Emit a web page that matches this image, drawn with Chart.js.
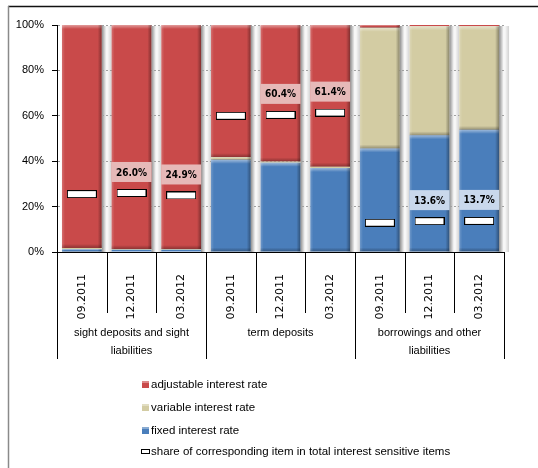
<!DOCTYPE html>
<html>
<head>
<meta charset="utf-8">
<script src="https://cdn.jsdelivr.net/npm/chart.js@4/dist/chart.umd.min.js"></script>
<style>
  html, body { margin: 0; padding: 0; background: #fff; }
  canvas { display: block; }
</style>
</head>
<body>
<canvas id="chart" width="538" height="468"></canvas>
<script>
// Reporting periods, repeated for each liability item
const periods = ['09.2011', '12.2011', '03.2012',
                 '09.2011', '12.2011', '03.2012',
                 '09.2011', '12.2011', '03.2012'];
const itemGroups = [
  ['sight deposits and sight', 'liabilities'],
  ['term deposits'],
  ['borrowings and other', 'liabilities']
];
const periodsPerGroup = 3;

// Structure by interest rate type, % of each item
const fixedRate      = [1.2, 1.0, 1.0, 40.6, 39.3, 37.0, 45.6, 51.4, 53.8];
const variableRate   = [0.6, 0.3, 0.3,  1.2,  0.6,  0.6, 53.2, 48.0, 45.6];
const adjustableRate = [98.2, 98.7, 98.7, 58.2, 60.1, 62.4, 1.2, 0.6, 0.6];

// Share of the item in total interest sensitive items, %
const shareOfTotal = [25.5, 26.0, 24.9, 60.0, 60.4, 61.4, 12.9, 13.6, 13.7];
// Periods whose share value is printed
const labelledIdx = [1, 2, 4, 5, 7, 8];

const yTickStep = 20;

const seriesNames = {
  adjustable: 'adjustable interest rate',
  variable: 'variable interest rate',
  fixed: 'fixed interest rate',
  share: 'share of corresponding item in total interest sensitive items'
};

const COLORS = {
  fixed: '#4a7ebb',
  variable: '#d3cca3',
  adjustable: '#c94a4a',
  labelRed: '#e6b9b8',
  labelBlue: '#c9d8ec'
};

const SANS = "'Liberation Sans', Arial, sans-serif";
const COND = "'DejaVu Sans Condensed', 'Liberation Sans', sans-serif";

// White bar-shaped marker for the share series
const marker = document.createElement('canvas');
marker.width = 30; marker.height = 8;
(function () {
  const m = marker.getContext('2d');
  m.fillStyle = '#fff';
  m.fillRect(0, 0, 30, 8);
  m.strokeStyle = '#000';
  m.lineWidth = 1;
  m.strokeRect(0.5, 0.5, 29, 7);
})();

// Gap shadows behind the bars
const gapShade = {
  id: 'gapShade',
  beforeDraw(chart) {
    const meta = chart.getDatasetMeta(0);
    const area = chart.chartArea;
    const ctx = chart.ctx;
    ctx.save();
    meta.data.forEach((bar) => {
      const r = bar.x + bar.width / 2;
      const w = 10;
      const g = ctx.createLinearGradient(r, 0, r + w, 0);
      g.addColorStop(0, 'rgba(0,0,0,0.45)');
      g.addColorStop(0.45, 'rgba(0,0,0,0.03)');
      g.addColorStop(0.6, 'rgba(0,0,0,0.03)');
      g.addColorStop(1, 'rgba(0,0,0,0.18)');
      ctx.fillStyle = g;
      ctx.fillRect(r, area.top + 1, w, area.bottom - area.top - 1);
    });
    ctx.restore();
  }
};

// Bevel highlights on each bar segment
const bevel = {
  id: 'bevel',
  afterDatasetsDraw(chart) {
    const ctx = chart.ctx;
    ctx.save();
    for (let d = 0; d < 3; d++) {
      chart.getDatasetMeta(d).data.forEach((bar) => {
        const l = bar.x - bar.width / 2, r = bar.x + bar.width / 2;
        const t = Math.min(bar.y, bar.base), b = Math.max(bar.y, bar.base);
        const h = b - t;
        if (h < 2) return;
        const e = Math.min(4, h / 2);
        let g = ctx.createLinearGradient(0, t, 0, t + e);
        g.addColorStop(0, 'rgba(255,255,255,0.45)');
        g.addColorStop(1, 'rgba(255,255,255,0)');
        ctx.fillStyle = g;
        ctx.fillRect(l, t, bar.width, e);
        g = ctx.createLinearGradient(0, b - e, 0, b);
        g.addColorStop(0, 'rgba(0,0,0,0)');
        g.addColorStop(1, 'rgba(0,0,0,0.3)');
        ctx.fillStyle = g;
        ctx.fillRect(l, b - e, bar.width, e);
        g = ctx.createLinearGradient(r - 4, 0, r, 0);
        g.addColorStop(0, 'rgba(0,0,0,0)');
        g.addColorStop(1, 'rgba(0,0,0,0.35)');
        ctx.fillStyle = g;
        ctx.fillRect(r - 4, t, 4, h);
        g = ctx.createLinearGradient(l, 0, l + 3, 0);
        g.addColorStop(0, 'rgba(255,255,255,0.2)');
        g.addColorStop(1, 'rgba(255,255,255,0)');
        ctx.fillStyle = g;
        ctx.fillRect(l, t, 3, h);
      });
    }
    ctx.restore();
  }
};

// Value boxes above the share markers
const shareLabels = {
  id: 'shareLabels',
  afterDatasetsDraw(chart) {
    const ctx = chart.ctx;
    const meta = chart.getDatasetMeta(3);
    ctx.save();
    ctx.font = "bold 10px " + COND;
    ctx.textAlign = 'center';
    ctx.textBaseline = 'middle';
    labelledIdx.forEach((i) => {
      const p = meta.data[i];
      const cx = p.x, cy = p.y - 21;
      ctx.fillStyle = shareOfTotal[i] < fixedRate[i] ? COLORS.labelBlue : COLORS.labelRed;
      ctx.fillRect(cx - 20, cy - 10, 40, 20);
      ctx.fillStyle = '#000';
      ctx.fillText(shareOfTotal[i].toFixed(1) + '%', cx, cy + 1);
    });
    ctx.restore();
  }
};

// Category separators, item names, legend and frame
const axisAndLegend = {
  id: 'axisAndLegend',
  afterDraw(chart) {
    const ctx = chart.ctx;
    const x = chart.scales.x;
    const base = chart.chartArea.bottom;
    const half = (x.getPixelForValue(1) - x.getPixelForValue(0)) / 2;
    ctx.save();
    ctx.strokeStyle = '#000';
    ctx.lineWidth = 1;
    for (let i = 0; i <= periods.length; i++) {
      const px = Math.round(i < periods.length ? x.getPixelForValue(i) - half
                                               : x.getPixelForValue(i - 1) + half) + 0.5;
      const isGroupEdge = i % periodsPerGroup === 0;
      ctx.beginPath();
      ctx.moveTo(px, base);
      ctx.lineTo(px, isGroupEdge ? 359 : 313);
      ctx.stroke();
    }
    ctx.fillStyle = '#000';
    ctx.font = '11px ' + SANS;
    ctx.textAlign = 'center';
    ctx.textBaseline = 'middle';
    itemGroups.forEach((lines, g) => {
      const cx = (x.getPixelForValue(g * periodsPerGroup) + x.getPixelForValue(g * periodsPerGroup + periodsPerGroup - 1)) / 2;
      lines.forEach((t, k) => ctx.fillText(t, cx, 333 + k * 18));
    });

    // legend
    const items = [
      { name: seriesNames.adjustable, color: COLORS.adjustable, y: 385 },
      { name: seriesNames.variable, color: COLORS.variable, y: 408 },
      { name: seriesNames.fixed, color: COLORS.fixed, y: 431 }
    ];
    ctx.font = '11.5px ' + SANS;
    ctx.textAlign = 'left';
    items.forEach((it) => {
      ctx.fillStyle = it.color;
      ctx.fillRect(142, it.y - 4, 7, 7);
      ctx.fillStyle = 'rgba(255,255,255,0.35)';
      ctx.fillRect(142, it.y - 4, 7, 2);
      ctx.fillStyle = '#000';
      ctx.fillText(it.name, 151, it.y);
    });
    ctx.fillStyle = '#fff';
    ctx.fillRect(141.5, 449.5, 8, 4);
    ctx.strokeStyle = '#000';
    ctx.strokeRect(141.5, 449.5, 8, 4);
    ctx.fillStyle = '#000';
    ctx.fillText(seriesNames.share, 151, 452);

    // frame
    ctx.strokeStyle = '#111';
    ctx.lineWidth = 1.5;
    ctx.beginPath();
    ctx.moveTo(8, 6.5);
    ctx.lineTo(538, 6.5);
    ctx.stroke();
    ctx.strokeStyle = '#8a8a8a';
    ctx.beginPath();
    ctx.moveTo(8.5, 6);
    ctx.lineTo(8.5, 468);
    ctx.stroke();
    ctx.restore();
  }
};

new Chart(document.getElementById('chart'), {
  data: {
    labels: periods,
    datasets: [
      { type: 'bar', label: seriesNames.fixed, data: fixedRate, backgroundColor: COLORS.fixed, stack: 'rates', order: 1 },
      { type: 'bar', label: seriesNames.variable, data: variableRate, backgroundColor: COLORS.variable, stack: 'rates', order: 1 },
      { type: 'bar', label: seriesNames.adjustable, data: adjustableRate, backgroundColor: COLORS.adjustable, stack: 'rates', order: 1 },
      { type: 'line', label: seriesNames.share, data: shareOfTotal, showLine: false, stack: 'share',
        pointStyle: marker, pointRadius: 5, order: 0 }
    ]
  },
  options: {
    responsive: false,
    animation: false,
    events: [],
    layout: { padding: { top: 25, right: 34, left: 0, bottom: 0 } },
    datasets: { bar: { barPercentage: 0.8, categoryPercentage: 1 } },
    plugins: { legend: { display: false }, tooltip: { enabled: false } },
    scales: {
      x: {
        stacked: true,
        offset: true,
        grid: { display: false },
        border: { display: true, color: '#000', width: 1 },
        ticks: {
          autoSkip: false, minRotation: 90, maxRotation: 90, padding: 14,
          color: '#000', font: { family: "'DejaVu Sans', sans-serif", size: 11 }
        },
        afterFit(s) { s.height = 216; }
      },
      y: {
        stacked: true,
        min: 0, max: 100,
        grid: { color: '#a0a0a0', tickColor: '#000', tickLength: 5, tickBorderDash: [] },
        border: { display: true, color: '#000', width: 1, dash: [2, 2] },
        ticks: {
          stepSize: yTickStep, padding: 8, color: '#000',
          font: { family: SANS, size: 11 },
          callback: (v) => v + '%'
        },
        afterFit(s) { s.width = 57; }
      }
    }
  },
  plugins: [gapShade, bevel, shareLabels, axisAndLegend]
});
</script>
</body>
</html>
